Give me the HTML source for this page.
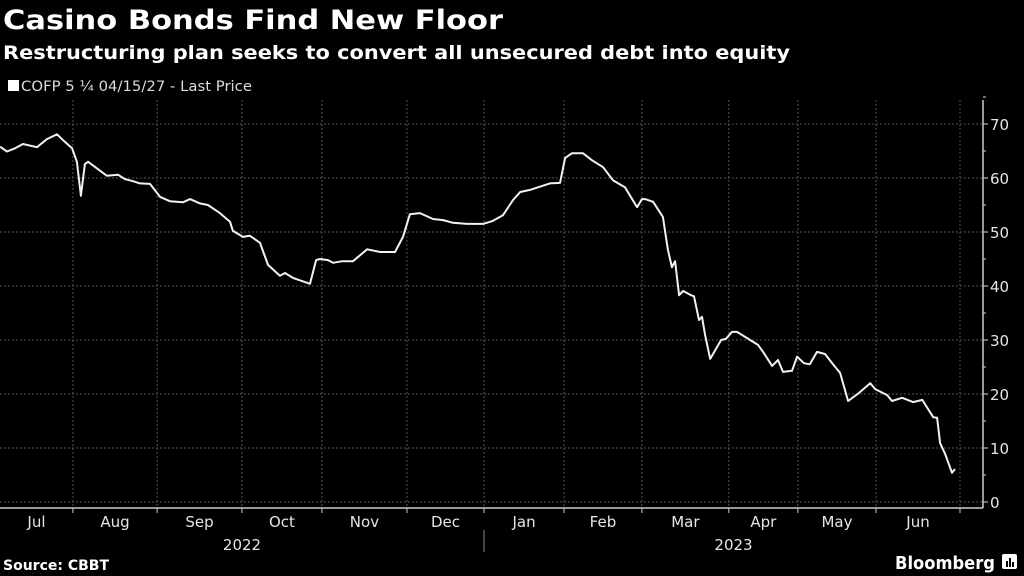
<!DOCTYPE html>
<html><head><meta charset="utf-8"><style>
html,body{margin:0;padding:0;background:#000;}
svg{display:block;font-family:"DejaVu Sans","Liberation Sans",sans-serif;}
</style></head><body>
<svg id="chart" width="1024" height="576" viewBox="0 0 1024 576">
<rect width="1024" height="576" fill="#000"/>
<text x="3" y="29" fill="#fff" font-weight="bold" font-size="27" textLength="500" lengthAdjust="spacingAndGlyphs">Casino Bonds Find New Floor</text>
<text x="3" y="59" fill="#fff" font-weight="bold" font-size="19" textLength="787" lengthAdjust="spacingAndGlyphs">Restructuring plan seeks to convert all unsecured debt into equity</text>
<g>
<rect x="8" y="80" width="11" height="11" fill="#fff"/>
<text x="21" y="91" fill="#ddd" font-size="14" textLength="231" lengthAdjust="spacingAndGlyphs">COFP 5 ¼ 04/15/27 - Last Price</text>
</g>
<g id="grid"></g>
<g id="axes"></g>
<path id="line" fill="none" stroke="#f2f2f2" stroke-width="2" stroke-linejoin="round"/>
<text x="3" y="570" fill="#fff" font-weight="bold" font-size="14">Source: CBBT</text>
<text x="895" y="569" fill="#fff" font-weight="bold" font-size="18" textLength="100" lengthAdjust="spacingAndGlyphs">Bloomberg</text>
<g><rect x="1002" y="554" width="15" height="15" rx="2" fill="#fff"/><rect x="1006" y="561" width="2" height="6" fill="#000"/><rect x="1009" y="558" width="2" height="9" fill="#000"/><rect x="1012" y="562" width="2" height="5" fill="#000"/></g>
</svg>
<script>
const days = [3.8,6.4,9.4,12.4,17.7,21.4,25.2,27.5,30.9,32.7,34.2,35.7,36.9,44,48.2,50.8,53.8,56.4,60.2,64,67.7,72.6,75.3,79,82,86.5,90.3,91.4,95.2,97.8,101.6,104.6,109.1,111,114,120.4,122.7,124.2,127.2,129.1,132.5,136.6,141.9,146.8,152.4,155.4,158,161.8,166.7,170.5,174.2,179.5,185.5,188.9,193,196.8,199.5,203.2,210.7,214.5,216.4,219,223.1,226.5,230.7,234.4,238.9,243.5,245.3,246.5,249.5,253.2,255.1,256.6,257.8,259.3,260.8,263.8,264.9,266.8,267.9,269.1,271,275.1,276.9,279.2,281.1,289,290.9,294.3,296.5,298.4,301.8,303.7,306.3,308.5,311.2,314.2,317.2,319.9,322.9,327,331.2,333.1,337.6,339.4,343.2,347.4,350.8,354.9,356.4,357.5,359.4,362,363.1,366.2];
const prices = [65.8,64.9,65.5,66.3,65.7,67.2,68.1,67,65.5,63,56.7,62.6,63,60.4,60.6,59.8,59.4,59,58.9,56.5,55.7,55.5,56.1,55.3,55,53.5,51.9,50.2,49.1,49.3,48,43.9,41.9,42.4,41.5,40.4,44.8,45,44.8,44.3,44.6,44.6,46.8,46.3,46.3,49.1,53.3,53.5,52.4,52.2,51.7,51.5,51.5,52,53.1,55.9,57.4,57.8,59,59.1,63.7,64.6,64.6,63.3,62,59.6,58.3,54.6,56.1,56.1,55.6,52.8,46.7,43.5,44.6,38.3,39.1,38.3,38.1,33.7,34.3,30.9,26.5,30,30.2,31.5,31.5,29.1,27.8,25.2,26.3,24.1,24.3,26.9,25.7,25.5,27.8,27.4,25.5,23.9,18.7,20.2,22,20.9,19.8,18.7,19.3,18.5,18.9,15.7,15.6,10.9,8.9,5.4,6.1];
const monthLabels = ["Jul","Aug","Sep","Oct","Nov","Dec","Jan","Feb","Mar","Apr","May","Jun"];
const monthStarts = [0,31.2,62.9,94.8,124.9,156.9,185.9,216,245.3,278,304,333.4,365];
const yearLabels = ["2022","2023"];
const yTicks = [0,10,20,30,40,50,60,70];

const X0=-10, X1=960, Y0=502, PXPER=5.4, AXR=983;
const x = d => X0 + (d/365)*(X1-X0);
const y = v => Y0 - v*PXPER;
const NS="http://www.w3.org/2000/svg";
function mk(tag, attrs, parent){const e=document.createElementNS(NS,tag);for(const k in attrs)e.setAttribute(k,attrs[k]);parent.appendChild(e);return e;}
const grid=document.getElementById('grid'), axes=document.getElementById('axes');

yTicks.forEach(v=>{
  const g=mk('line',{x1:0,x2:AXR,y1:y(v),y2:y(v),stroke:'#555','stroke-dasharray':'2,2','stroke-width':1},grid);
  
  
  const t=mk('line',{x1:AXR,x2:AXR+5,y1:y(v),y2:y(v),stroke:'#ddd','stroke-width':1},axes);
  
  
  const m=mk('line',{x1:AXR,x2:AXR+3,y1:y(v+5),y2:y(v+5),stroke:'#ddd','stroke-width':1},axes);
  
  
  const l=mk('text',{x:AXR+7,y:y(v)+6,fill:'#e6e6e6','font-size':15},axes);
  l.textContent=v;
  
  
});
monthStarts.forEach((d,i)=>{
  if(i>0){
    const g=mk('line',{x1:x(d),x2:x(d),y1:100,y2:508,stroke:'#555','stroke-dasharray':'2,2','stroke-width':1},grid);
    
    
    const t=mk('line',{x1:x(d),x2:x(d),y1:508,y2:513,stroke:'#ccc','stroke-width':1},axes);
    
    
  }
  if(i<monthLabels.length){
    const mid=(Math.max(x(d),0)+x(monthStarts[i+1]))/2;
    const l=mk('text',{x:mid,y:527,fill:'#e6e6e6','font-size':15,'text-anchor':'middle'},axes);
    l.textContent=monthLabels[i];
    
    
  }
});
const yr1=mk('text',{x:(0+x(monthStarts[6]))/2,y:550,fill:'#e6e6e6','font-size':15,'text-anchor':'middle'},axes);
yr1.textContent=yearLabels[0];


const yr2=mk('text',{x:(x(monthStarts[6])+AXR)/2,y:550,fill:'#e6e6e6','font-size':15,'text-anchor':'middle'},axes);
yr2.textContent=yearLabels[1];


const sep=mk('line',{x1:x(monthStarts[6]),x2:x(monthStarts[6]),y1:530,y2:552,stroke:'#888','stroke-width':1},axes);


const xa=mk('line',{x1:0,x2:AXR,y1:508,y2:508,stroke:'#ccc','stroke-width':1.5},axes);


const ya=mk('line',{x1:AXR,x2:AXR,y1:100,y2:508,stroke:'#ccc','stroke-width':1.5},axes);



document.getElementById('line').setAttribute('d', days.map((d,i)=>(i?'L':'M')+x(d).toFixed(1)+','+y(prices[i]).toFixed(1)).join(''));
</script>
</body></html>
